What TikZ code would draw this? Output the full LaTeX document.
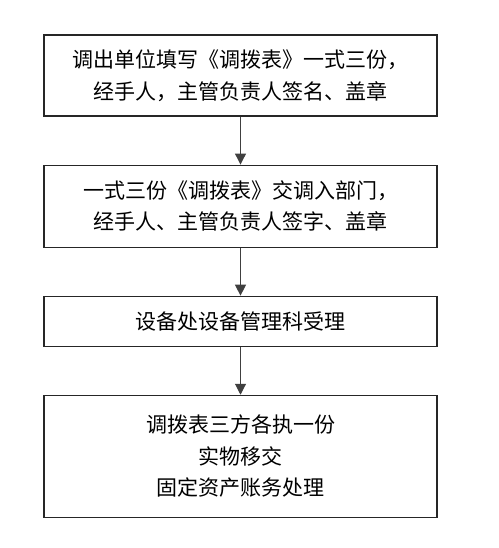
\documentclass[tikz,border=0pt]{standalone}
\usepackage{fontspec}
\newfontfamily\cjk{Noto Sans CJK SC}
\usetikzlibrary{arrows.meta,positioning}

\begin{document}
\begin{tikzpicture}[node distance=48pt, auto, x=1pt, y=1pt,
    stepbox/.style={draw=black!85, line width=1.1pt, minimum width=393pt,
      align=center, inner sep=0pt, font=\cjk\fontsize{21}{31.5}\selectfont},
    flow/.style={-{Triangle[length=11pt,width=11pt]}, draw=black!75, line width=1.1pt}]
  \useasboundingbox (0,0) rectangle (498,-548);
  \node (fill) [stepbox, minimum height=81pt] at (240.5,-75.5)
    {调出单位填写《调拨表》一式三份，\\经手人，主管负责人签名、盖章};
  \node (hand) [stepbox, minimum height=82pt, below=of fill]
    {一式三份《调拨表》交调入部门，\\经手人、主管负责人签字、盖章};
  \node (accept) [stepbox, minimum height=50pt, below=of hand]
    {设备处设备管理科受理};
  \node (settle) [stepbox, minimum height=122pt, below=of accept]
    {调拨表三方各执一份\\实物移交\\固定资产账务处理};
  \draw[flow] (fill) -- (hand);
  \draw[flow] (hand) -- (accept);
  \draw[flow] (accept) -- (settle);
\end{tikzpicture}
\end{document}
